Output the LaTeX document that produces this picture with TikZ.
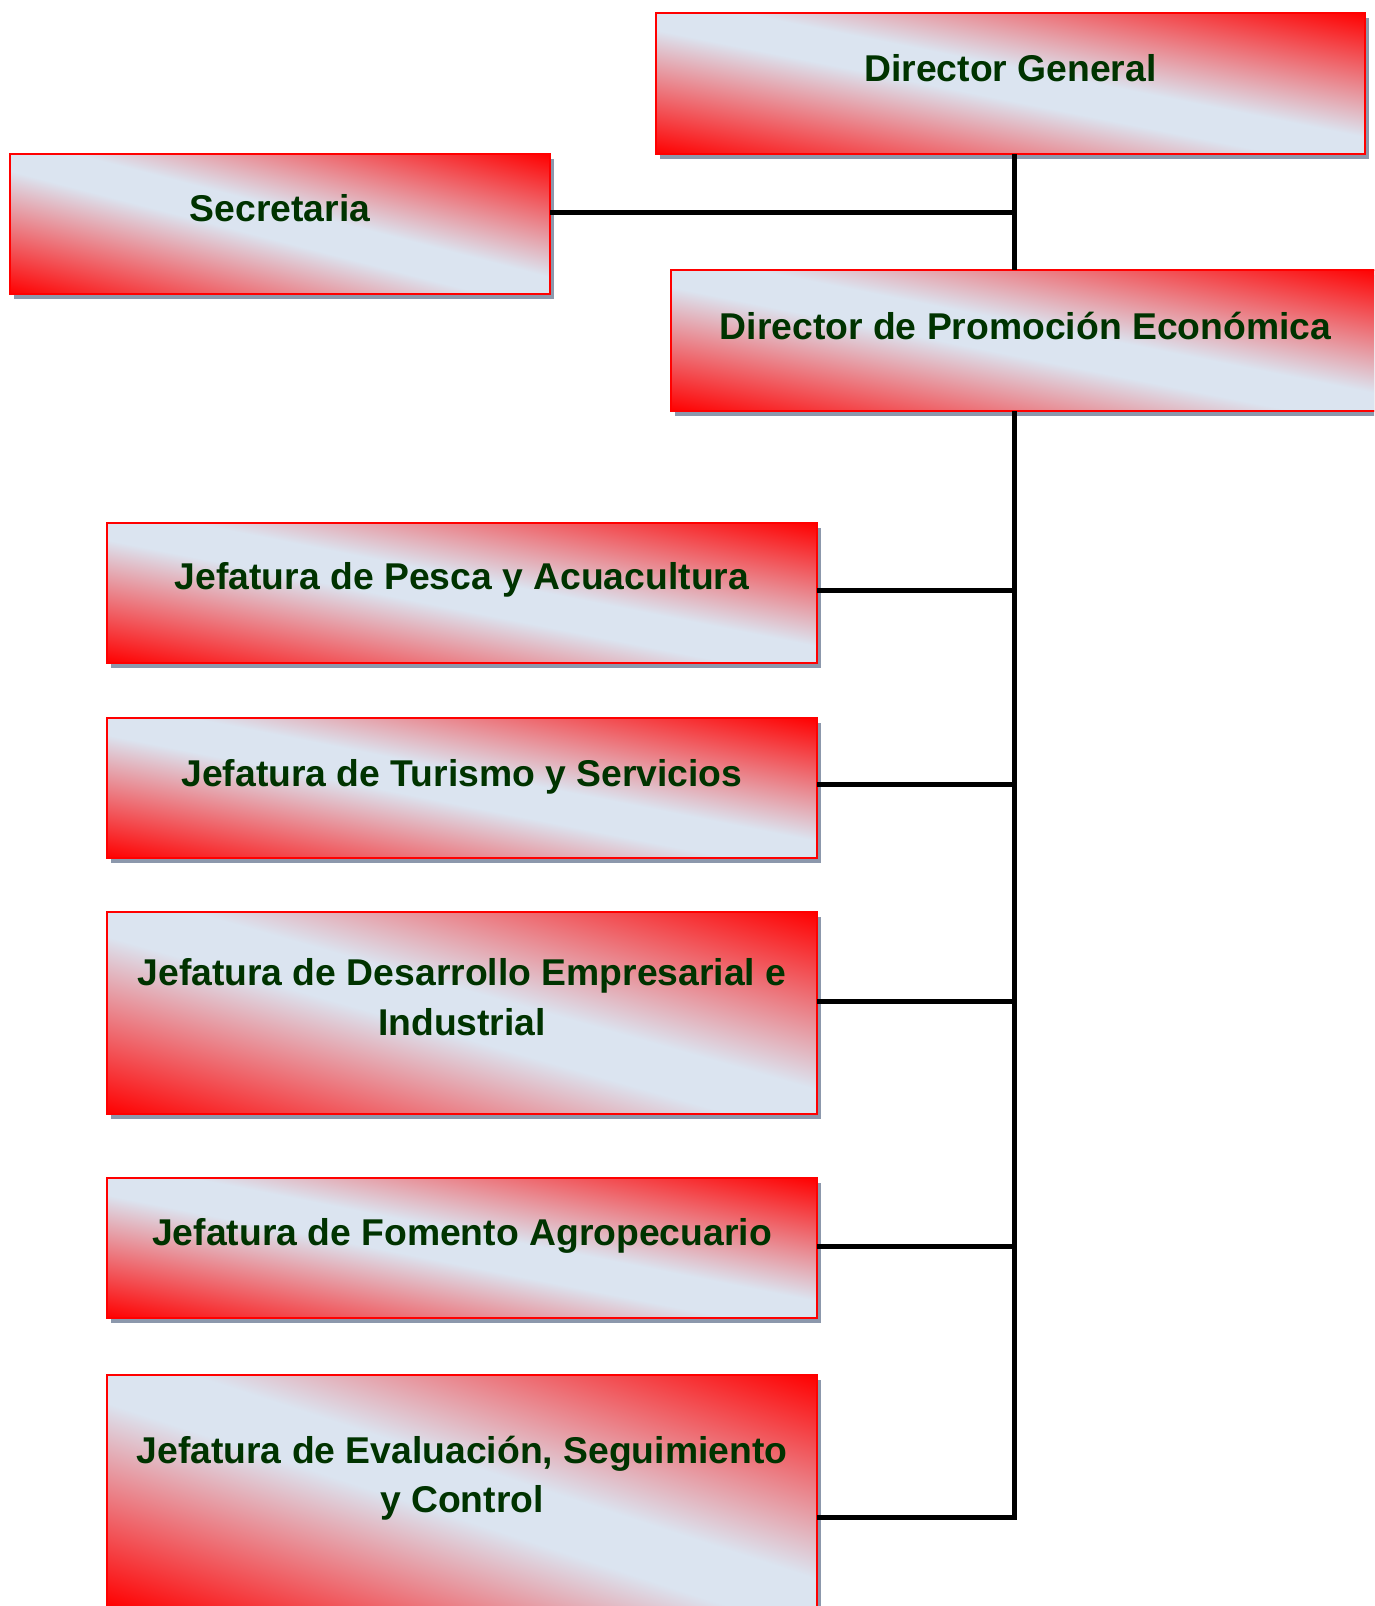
\documentclass[tikz,border=0pt]{standalone}
\usepackage{fontspec}
\setmainfont{Liberation Sans}
\usetikzlibrary{shadows}
\definecolor{boxred}{RGB}{255,0,0}
\definecolor{boxlight}{RGB}{219,228,240}
\definecolor{txtgreen}{RGB}{0,51,0}
\definecolor{shadowgray}{RGB}{140,152,172}
\pgfdeclarehorizontalshading{redlight}{100bp}{color(0bp)=(boxred); color(25bp)=(boxred); color(47bp)=(boxlight); color(53bp)=(boxlight); color(75bp)=(boxred); color(100bp)=(boxred)}
\newcommand\orgbox[5]{%
  \node[orgboxstyle, minimum width=#4pt, minimum height=#5pt] (#1) at (#2,#3) {};
  \begin{scope}
    \clip (#1.south west) rectangle (#1.north east);
    \pgfmathsetmacro\ga{#4/100}\pgfmathsetmacro\gb{#5/100}
    \begin{scope}[transform canvas={cm={\ga,\gb,-\ga,\gb,(#1.center)}}]
      \shade[shading=redlight] (-50,-50) rectangle (50,50);
    \end{scope}
  \end{scope}
  \draw[boxred, line width=2pt] (#1.south west) rectangle (#1.north east);
}
\begin{document}
\begin{tikzpicture}[x=1pt,y=-1pt,
  orgboxstyle/.style={draw=boxred, line width=2pt, fill=boxlight, inner sep=0pt, outer sep=0pt,
    drop shadow={shadow xshift=4pt, shadow yshift=-5pt, fill=shadowgray, opacity=1}},
  lbl/.style={text=txtgreen, font=\fontsize{37.3}{49.5}\selectfont\bfseries, align=center, inner sep=0pt},
  conn/.style={draw=black, line width=5pt}]
\useasboundingbox (0,0) rectangle (1374,1606);
\clip (0,0) rectangle (1374,1606);
% boxes
\orgbox{dg}{1010.5}{83.5}{709}{141}
\orgbox{sec}{280}{224}{540}{140}
\orgbox{dpe}{1025.5}{340.5}{709}{141}
\orgbox{pes}{462}{593}{710}{140}
\orgbox{tur}{462}{788}{710}{140}
\orgbox{des}{462}{1013}{710}{202}
\orgbox{fom}{462}{1248}{710}{140}
\orgbox{eva}{462}{1491}{710}{232}
% labels
\node[lbl] (dgt) at ([yshift=15pt]dg.center) {Director General};
\node[lbl] (sect) at ([yshift=16pt]sec.center) {Secretaria};
\node[lbl] (dpet) at ([yshift=15pt]dpe.center) {Director de Promoción Económica};
\node[lbl] (pest) at ([yshift=13pt]pes.center) {Jefatura de Pesca y Acuacultura};
\node[lbl] (turt) at ([yshift=11pt]tur.center) {Jefatura de Turismo y Servicios};
\node[lbl] (dest) at ([yshift=16pt]des.center) {Jefatura de Desarrollo Empresarial e\\Industrial};
\node[lbl] (fomt) at ([yshift=12pt]fom.center) {Jefatura de Fomento Agropecuario};
\node[lbl] (evat) at ([yshift=13pt]eva.center) {Jefatura de Evaluación, Seguimiento\\y Control};
% connectors
\coordinate (tr) at (1014,0);
\coordinate (sc) at ([yshift=12pt]sec.east);
\coordinate (pc) at ([yshift=3pt]pes.east);
\coordinate (tc) at ([yshift=4pt]tur.east);
\coordinate (dc) at ([yshift=12pt]des.east);
\coordinate (fc) at ([yshift=2pt]fom.east);
\coordinate (ec) at ([yshift=-26pt]eva.east);
\draw[conn] (dg.south -| tr) -- (dpe.north -| tr);
\draw[conn] (sc) -- (sc -| tr);
\draw[conn] (dpe.south -| tr) |- (ec);
\draw[conn] (pc) -- (pc -| tr);
\draw[conn] (tc) -- (tc -| tr);
\draw[conn] (dc) -- (dc -| tr);
\draw[conn] (fc) -- (fc -| tr);
\end{tikzpicture}
\end{document}
